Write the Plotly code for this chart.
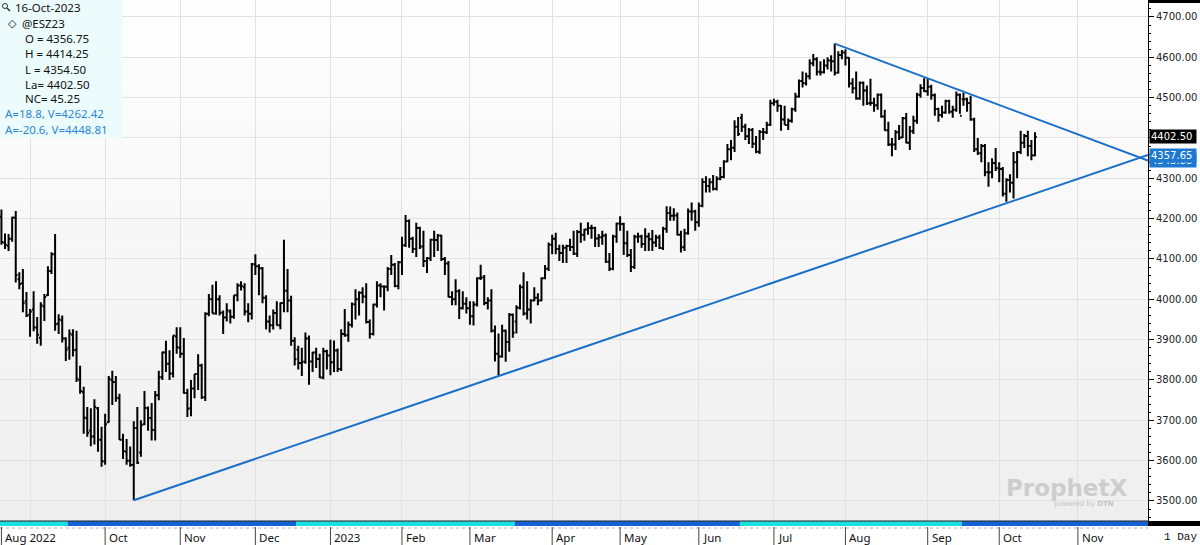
import pandas as pd
import plotly.graph_objects as go

# ---------------- data ----------------
holidays = ["2022-09-05", "2022-11-24", "2022-12-26", "2023-01-02", "2023-01-16",
            "2023-02-20", "2023-04-07", "2023-05-29", "2023-06-19", "2023-07-04",
            "2023-09-04", "2023-11-23"]
first_day = "2022-08-22"
last_axis_day = "2023-11-30"

opens = [
    # Aug 2022
    4205, 4140, 4133, 4150, 4202, 4050, 4040, 3995,
    # Sep 2022
    3962, 3975, 3930, 3905, 3982, 4010, 4070, 4112, 3940, 3948, 3903, 3880, 3912, 3875, 3800, 3770, 3705, 3675, 3660, 3730, 3652,
    # Oct 2022
    3598, 3695, 3800, 3795, 3755, 3652, 3622, 3600, 3590, 3681, 3620, 3690, 3730, 3705, 3676, 3762, 3807, 3868, 3840, 3816, 3908,
    # Nov 2022
    3880, 3865, 3768, 3730, 3779, 3815, 3836, 3757, 3964, 4000, 3965, 4000, 3967, 3955, 3970, 3957, 4010, 4034, 4030, 3970, 3964,
    # Dec 2022
    4087, 4082, 4077, 4004, 3945, 3936, 3966, 3936, 3991, 4021, 3997, 3897, 3875, 3842, 3845, 3903, 3846, 3868, 3852, 3806, 3871,
    # Jan 2023
    3861, 3844, 3873, 3827, 3914, 3911, 3937, 3988, 4000, 4016, 4007, 3944, 3914, 3987, 4034, 4032, 4031, 4075, 4086, 4033,
    # Feb 2023
    4092, 4134, 4194, 4150, 4125, 4177, 4131, 4095, 4102, 4148, 4147, 4158, 4100, 4089, 4006, 4000, 4020, 3978, 3989,
    # Mar 2023
    3978, 3958, 3987, 4052, 4054, 3991, 3997, 3922, 3865, 3858, 3922, 3894, 3962, 3945, 3979, 4030, 3965, 3975, 3997, 4004, 3997, 4052, 4076,
    # Apr 2023
    4135, 4150, 4125, 4115, 4128, 4132, 4130, 4113, 4167, 4160, 4173, 4177, 4177, 4151, 4154, 4158, 4093, 4076, 4156,
    # May 2023
    4188, 4187, 4139, 4110, 4080, 4155, 4156, 4137, 4156, 4149, 4141, 4153, 4127, 4175, 4214, 4207, 4208, 4160, 4129, 4164, 4218, 4218,
    # Jun 2023
    4191, 4232, 4291, 4281, 4290, 4274, 4299, 4303, 4342, 4372, 4376, 4428, 4450, 4428, 4404, 4420, 4386, 4366, 4415, 4414, 4433,
    # Jul 2023
    4486, 4490, 4480, 4446, 4432, 4443, 4471, 4503, 4541, 4536, 4553, 4585, 4595, 4564, 4563, 4580, 4592, 4590, 4562, 4606,
    # Aug 2023
    4612, 4599, 4535, 4523, 4498, 4537, 4518, 4486, 4487, 4481, 4507, 4453, 4419, 4384, 4384, 4414, 4401, 4449, 4388, 4417, 4443, 4507, 4524,
    # Sep 2023
    4516, 4527, 4506, 4472, 4457, 4463, 4492, 4465, 4470, 4507, 4496, 4496, 4487, 4446, 4372, 4362, 4380, 4315, 4315, 4338,
    # Oct 2023
    4325, 4323, 4262, 4296, 4289, 4340, 4365, 4388, 4405, 4380, 4356.75,
]
highs = [
    4223, 4163, 4162, 4205, 4219, 4067, 4075, 4018,
    3976, 4020, 3956, 3993, 4013, 4082, 4117, 4162, 3963, 3960, 3906, 3925, 3926, 3922, 3835, 3783, 3733, 3730, 3752, 3733, 3684,
    3716, 3810, 3823, 3810, 3766, 3667, 3654, 3635, 3698, 3733, 3700, 3773, 3734, 3743, 3773, 3823, 3870, 3897, 3874, 3910, 3931,
    3931, 3904, 3778, 3800, 3815, 3864, 3840, 3968, 4013, 4036, 4045, 4010, 3972, 3990, 3975, 4010, 4040, 4045, 4040, 3990, 4090,
    4112, 4087, 4080, 4010, 3960, 3975, 3995, 3992, 4148, 4075, 4009, 3906, 3885, 3880, 3918, 3910, 3870, 3880, 3865, 3880, 3875,
    3900, 3898, 3878, 3926, 3976, 3945, 3992, 4025, 4020, 4030, 4040, 3950, 3989, 4045, 4040, 4035, 4080, 4110, 4090, 4095,
    4155, 4209, 4198, 4155, 4190, 4180, 4170, 4105, 4150, 4170, 4162, 4160, 4105, 4095, 4020, 4050, 4025, 4020, 4005,
    3995, 3995, 4055, 4086, 4060, 4005, 4025, 3935, 3915, 3937, 3925, 3966, 3965, 3985, 4037, 4067, 4045, 4000, 4030, 4015, 4055, 4085, 4141,
    4160, 4165, 4135, 4135, 4135, 4150, 4170, 4172, 4190, 4175, 4191, 4185, 4180, 4162, 4170, 4163, 4115, 4160, 4190,
    4206, 4190, 4170, 4125, 4160, 4165, 4160, 4176, 4165, 4172, 4160, 4160, 4180, 4231, 4230, 4226, 4215, 4170, 4175, 4225, 4240, 4222,
    4240, 4300, 4305, 4300, 4308, 4305, 4328, 4345, 4385, 4395, 4444, 4452, 4460, 4435, 4425, 4425, 4405, 4420, 4425, 4440, 4495,
    4497, 4495, 4482, 4480, 4448, 4475, 4512, 4545, 4565, 4562, 4595, 4608, 4600, 4590, 4595, 4600, 4605, 4634, 4615, 4618,
    4620, 4600, 4548, 4565, 4540, 4540, 4530, 4547, 4500, 4510, 4510, 4470, 4440, 4400, 4420, 4432, 4452, 4462, 4430, 4455, 4512, 4533, 4548,
    4548, 4532, 4510, 4475, 4480, 4495, 4495, 4480, 4515, 4510, 4512, 4500, 4505, 4450, 4400, 4385, 4385, 4340, 4350, 4375,
    4340, 4328, 4300, 4310, 4365, 4367, 4418, 4410, 4418, 4395, 4414.25,
]
lows = [
    4135, 4125, 4120, 4143, 4042, 4025, 3968, 3956,
    3907, 3921, 3890, 3885, 3946, 4008, 4063, 3922, 3914, 3893, 3847, 3850, 3858, 3795, 3766, 3667, 3659, 3636, 3640, 3622, 3585,
    3590, 3694, 3738, 3746, 3651, 3604, 3590, 3585, 3502, 3592, 3610, 3688, 3674, 3650, 3650, 3750, 3800, 3820, 3800, 3806, 3865,
    3855, 3766, 3708, 3710, 3755, 3775, 3753, 3748, 3958, 3965, 3962, 3960, 3914, 3945, 3940, 3952, 3995, 4022, 3960, 3943, 3950,
    4060, 4010, 3990, 3925, 3918, 3925, 3935, 3926, 3968, 3968, 3885, 3836, 3826, 3810, 3840, 3788, 3820, 3830, 3805, 3802, 3826,
    3812, 3820, 3820, 3822, 3907, 3895, 3930, 3950, 3960, 3990, 3940, 3903, 3910, 3980, 4005, 3972, 4020, 4060, 4030, 4025,
    4060, 4130, 4128, 4115, 4105, 4125, 4080, 4065, 4095, 4105, 4120, 4095, 4060, 4005, 3985, 3985, 3951, 3975, 3965,
    3937, 3935, 3982, 4048, 3985, 3975, 3918, 3846, 3811, 3855, 3845, 3870, 3905, 3915, 3975, 3960, 3950, 3940, 3995, 3985, 3995, 4050, 4070,
    4112, 4112, 4095, 4090, 4090, 4120, 4110, 4105, 4140, 4145, 4160, 4150, 4130, 4130, 4135, 4090, 4070, 4072, 4140,
    4170, 4110, 4105, 4068, 4075, 4140, 4128, 4120, 4120, 4120, 4130, 4125, 4122, 4165, 4195, 4195, 4158, 4116, 4120, 4160, 4195, 4170,
    4180, 4228, 4265, 4265, 4270, 4270, 4295, 4300, 4340, 4345, 4365, 4405, 4415, 4395, 4385, 4375, 4362, 4360, 4395, 4410, 4430,
    4480, 4465, 4418, 4432, 4420, 4438, 4465, 4500, 4525, 4530, 4545, 4578, 4555, 4555, 4560, 4570, 4565, 4555, 4560, 4595,
    4580, 4525, 4510, 4495, 4495, 4480, 4482, 4480, 4465, 4470, 4450, 4418, 4380, 4355, 4370, 4395, 4400, 4387, 4370, 4410, 4435, 4500, 4514,
    4505, 4495, 4455, 4440, 4450, 4460, 4460, 4450, 4465, 4460, 4480, 4465, 4443, 4365, 4358, 4340, 4305, 4279, 4300, 4318,
    4290, 4255, 4242, 4265, 4250, 4300, 4360, 4375, 4355, 4345, 4354.50,
]
closes = [
    4142, 4135, 4150, 4203, 4060, 4038, 3990, 3960,
    3970, 3930, 3912, 3985, 4006, 4070, 4112, 3938, 3950, 3903, 3875, 3915, 3874, 3803, 3773, 3707, 3669, 3660, 3733, 3652, 3599,
    3690, 3803, 3795, 3756, 3652, 3624, 3600, 3589, 3681, 3595, 3688, 3731, 3706, 3676, 3762, 3807, 3869, 3840, 3816, 3910, 3881,
    3865, 3768, 3729, 3779, 3815, 3836, 3757, 3964, 4001, 3965, 4000, 3967, 3955, 3973, 3957, 4010, 4034, 4033, 3970, 3964, 4087,
    4082, 4077, 4004, 3945, 3936, 3966, 3936, 3991, 4021, 3997, 3897, 3852, 3842, 3845, 3903, 3846, 3868, 3852, 3806, 3871, 3861,
    3844, 3873, 3827, 3914, 3911, 3937, 3988, 4000, 4016, 4007, 3944, 3914, 3987, 4034, 4032, 4031, 4075, 4086, 4033, 4092,
    4134, 4194, 4150, 4125, 4177, 4131, 4095, 4102, 4148, 4147, 4158, 4100, 4089, 4006, 4000, 4020, 3978, 3989, 3978,
    3958, 3987, 4052, 4054, 3991, 3997, 3922, 3865, 3858, 3922, 3894, 3962, 3917, 3979, 4030, 3965, 3975, 3997, 4004, 3997, 4052, 4076, 4135,
    4150, 4125, 4115, 4128, 4132, 4130, 4113, 4167, 4160, 4173, 4177, 4177, 4151, 4154, 4158, 4093, 4076, 4156, 4188,
    4187, 4139, 4110, 4080, 4155, 4156, 4137, 4156, 4149, 4141, 4153, 4127, 4175, 4214, 4207, 4208, 4160, 4129, 4164, 4218, 4218, 4191,
    4232, 4291, 4281, 4290, 4274, 4299, 4303, 4342, 4372, 4376, 4428, 4410, 4428, 4404, 4420, 4386, 4366, 4415, 4414, 4433, 4486,
    4490, 4480, 4446, 4432, 4443, 4471, 4503, 4541, 4536, 4553, 4585, 4595, 4564, 4563, 4580, 4592, 4590, 4562, 4606, 4612,
    4599, 4535, 4523, 4498, 4537, 4518, 4486, 4487, 4481, 4507, 4453, 4419, 4384, 4384, 4414, 4401, 4449, 4388, 4417, 4443, 4507, 4524, 4516,
    4527, 4506, 4472, 4457, 4463, 4492, 4465, 4470, 4507, 4455, 4496, 4487, 4446, 4372, 4362, 4380, 4315, 4315, 4338, 4325,
    4323, 4262, 4296, 4289, 4340, 4365, 4388, 4405, 4380, 4357.25, 4402.50,
]

# trend lines: (date, value) anchors
lower_dates = ["2022-10-13", "2023-10-16"]
lower_values = [3502.0, 4262.42]
upper_dates = ["2023-07-27", "2023-10-16"]
upper_values = [4634.0, 4448.81]

month_dates = ["2022-08-22", "2022-10-03", "2022-11-01", "2022-12-01", "2023-01-03", "2023-02-01",
               "2023-03-01", "2023-04-03", "2023-05-01", "2023-06-01", "2023-07-03", "2023-08-01",
               "2023-09-01", "2023-10-02", "2023-11-01"]
month_labels = ["Aug 2022", "Oct", "Nov", "Dec", "2023", "Feb", "Mar", "Apr", "May", "Jun",
                "Jul", "Aug", "Sep", "Oct", "Nov"]
grid_dates = ["2022-09-01"] + month_dates[1:]

contract_starts = ["2022-08-22", "2022-09-19", "2022-12-19", "2023-03-20", "2023-06-20", "2023-09-18"]
contract_colors = ["#18e0e0", "#1462d6", "#18e0e0", "#1462d6", "#18e0e0", "#1462d6"]

y_ticks = [3500, 3600, 3700, 3800, 3900, 4000, 4100, 4200, 4300, 4400, 4500, 4600, 4700]
# the 4400 label is covered by the last-price tag in the reference
y_tick_text = ["3500.00", "3600.00", "3700.00", "3800.00", "3900.00", "4000.00", "4100.00",
               "4200.00", "4300.00", "", "4500.00", "4600.00", "4700.00"]

# ---------------- calendar ----------------
days = [d.strftime("%Y-%m-%d") for d in pd.bdate_range(first_day, last_axis_day)]
days = [d for d in days if d not in holidays]
pos = {d: i for i, d in enumerate(days)}
n = len(closes)
xs = list(range(n))
assert days[n - 1] == "2023-10-16", days[n - 1]

X0, X1 = -0.4, 320.6
Y0, Y1 = 3450.4, 4742.1
W, H = 1200, 545
PW, PH = 1148, 521  # plot area in px


def px(xp):
    return xp / PW


def py(yp):
    return 1 - yp / PH


fig = go.Figure()

fig.add_trace(go.Ohlc(
    x=xs, open=opens, high=highs, low=lows, close=closes,
    increasing=dict(line=dict(color="black", width=2)),
    decreasing=dict(line=dict(color="black", width=2)),
    tickwidth=0.5, hoverinfo="skip", showlegend=False,
))


def extend(dates, vals):
    xa, xb = pos[dates[0]], pos[dates[1]]
    slope = (vals[1] - vals[0]) / (xb - xa)
    return [xa, X1], [vals[0], vals[0] + slope * (X1 - xa)]


for d, v in ((lower_dates, lower_values), (upper_dates, upper_values)):
    lx, ly = extend(d, v)
    fig.add_trace(go.Scatter(x=lx, y=ly, mode="lines", line=dict(color="#1a70c8", width=2),
                             hoverinfo="skip", showlegend=False, cliponaxis=True))

shapes = []
# gradient background
steps = 26
for k in range(steps):
    t = k / (steps - 1)
    c = int(round(254 - t * 15))
    shapes.append(dict(type="rect", xref="paper", yref="paper", x0=0, x1=1,
                       y0=1 - (k + 1) / steps, y1=1 - k / steps,
                       fillcolor=f"rgb({c},{c},{c})", line=dict(width=0), layer="below"))
# info box
shapes.append(dict(type="rect", xref="paper", yref="paper", x0=0, x1=px(122), y0=py(138), y1=1,
                   fillcolor="#ecfbfb", line=dict(width=0), layer="above"))
# magnifier icon
shapes.append(dict(type="circle", xref="paper", yref="paper", x0=px(2.5), x1=px(7.5), y0=py(8.5), y1=py(3.5),
                   line=dict(color="#333", width=1), layer="above"))
shapes.append(dict(type="line", xref="paper", yref="paper", x0=px(7), x1=px(10), y0=py(8), y1=py(11),
                   line=dict(color="#333", width=1.5), layer="above"))
# contract band
for k, s in enumerate(contract_starts):
    a = X0 if k == 0 else pos[s] - 0.5
    b = X1 if k == len(contract_starts) - 1 else pos[contract_starts[k + 1]] - 0.5
    shapes.append(dict(type="rect", xref="x", yref="paper", x0=a, x1=b, y0=py(526), y1=py(521),
                       fillcolor=contract_colors[k], line=dict(width=0), layer="above"))
shapes.append(dict(type="line", xref="paper", yref="paper", x0=0, x1=1, y0=py(521), y1=py(521),
                   line=dict(color="#222", width=1)))
shapes.append(dict(type="line", xref="paper", yref="paper", x0=0, x1=1, y0=py(528), y1=py(528),
                   line=dict(color="#b0b0b0", width=1, dash="dot")))
# month separators in label row
for d in month_dates:
    shapes.append(dict(type="line", xref="x", yref="paper", x0=pos[d], x1=pos[d], y0=py(545), y1=py(527),
                       line=dict(color="#444", width=1)))
# right panel bars
shapes.append(dict(type="rect", xref="paper", yref="paper", x0=1, x1=W / PW, y0=py(3), y1=1,
                   fillcolor="black", line=dict(width=0)))
shapes.append(dict(type="rect", xref="paper", yref="paper", x0=1, x1=W / PW, y0=py(526), y1=py(521),
                   fillcolor="black", line=dict(width=0)))

ann = []
info_font = dict(family="Noto Sans", size=11.5, color="#111")
ann.append(dict(text="16-Oct-2023", x=px(13), y=py(7)))
ann.append(dict(text="\u25c7", x=px(6), y=py(24), font=dict(family="DejaVu Sans", size=11, color="#111")))
ann.append(dict(text="@ESZ23", x=px(20), y=py(24)))
for k, t in enumerate(["O = 4356.75", "H = 4414.25", "L = 4354.50", "La= 4402.50", "NC= 45.25"]):
    ann.append(dict(text=t, x=px(23), y=py(39 + 15 * k)))
blue_font = dict(family="Noto Sans", size=11.5, color="#2b86d6")
ann.append(dict(text="A=18.8, V=4262.42", x=px(3), y=py(114), font=blue_font))
ann.append(dict(text="A=-20.6, V=4448.81", x=px(3), y=py(129), font=blue_font))
for a in ann:
    a.setdefault("font", info_font)
    a.update(xref="paper", yref="paper", xanchor="left", yanchor="middle", showarrow=False)

label_font = dict(family="Noto Sans", size=11.5, color="#111")
for d, t in zip(month_dates, month_labels):
    ann.append(dict(text=t, x=pos[d], xref="x", xanchor="left", xshift=2, y=py(537), yref="paper",
                    yanchor="middle", showarrow=False, font=label_font))
ann.append(dict(text="1 Day", x=px(1162), y=py(537), xref="paper", yref="paper", xanchor="left",
                yanchor="middle", showarrow=False, font=dict(family="Liberation Mono", size=11, color="#111")))

# price tags (the blue ones overlap in the reference, the upper one on top)
tag_font = dict(family="DejaVu Sans", size=10, color="white")
for val, bg in ((4343.88, "#1d78d0"), (4357.65, "#1d78d0"), (closes[-1], "black")):
    ann.append(dict(text=f"{val:.2f}", x=1, xref="paper", xanchor="left", xshift=1, y=val, yref="y",
                    yanchor="middle", showarrow=False, font=tag_font, bgcolor=bg, borderpad=1,
                    width=44, align="left"))

# watermark
ann.append(dict(text="<b>ProphetX</b>", x=px(1066), y=py(488), xref="paper", yref="paper",
                xanchor="center", yanchor="middle", showarrow=False,
                font=dict(family="DejaVu Sans", size=23, color="#cdcdcd")))
ann.append(dict(text="powered by <b>DTN</b>", x=px(1116), y=py(504), xref="paper", yref="paper",
                xanchor="right", yanchor="middle", showarrow=False,
                font=dict(family="DejaVu Sans", size=7, color="#c4c4c4")))

fig.update_layout(
    width=W, height=H,
    margin=dict(l=0, r=W - PW, t=0, b=H - PH),
    paper_bgcolor="white", plot_bgcolor="white",
    shapes=shapes, annotations=ann, showlegend=False,
    xaxis=dict(range=[X0, X1], tickvals=[pos[d] for d in grid_dates], showticklabels=False,
               ticks="", showgrid=True, gridcolor="#e2e2e2", gridwidth=1, zeroline=False,
               showline=False, rangeslider=dict(visible=False), fixedrange=True),
    yaxis=dict(range=[Y0, Y1], side="right", tickvals=y_ticks, ticktext=y_tick_text,
               ticks="outside", ticklen=5, tickcolor="black", showline=True, linecolor="black",
               linewidth=1, showgrid=True, gridcolor="#e2e2e2", zeroline=False,
               tickfont=dict(family="DejaVu Sans", size=10, color="#222"),
               minor=dict(dtick=20, tick0=3500, ticks="outside", ticklen=2, tickcolor="black", showgrid=False),
               fixedrange=True),
)

fig.write_html("out.html")
